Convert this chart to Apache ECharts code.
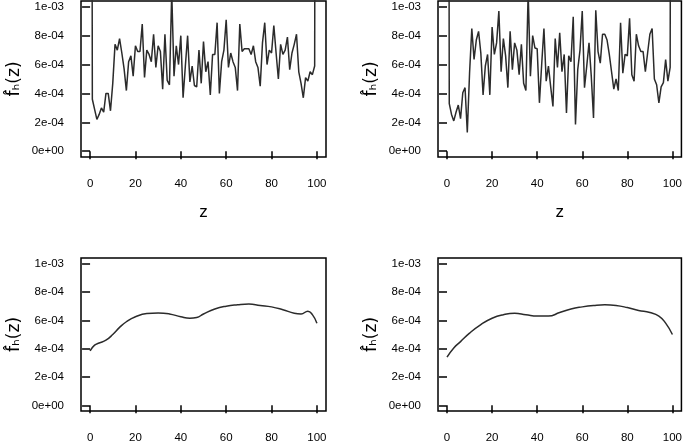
<!DOCTYPE html>
<html>
<head>
<meta charset="utf-8">
<script src="https://cdn.jsdelivr.net/npm/echarts@6/dist/echarts.min.js"></script>
<style>
  html, body { margin: 0; padding: 0; background: #fff; }
  #main { width: 685px; height: 444px; }
</style>
</head>
<body>
<div id="main"></div>
<script>
// values are in units of 1e-04
var zTop = [];
for (var i = 0; i <= 100; i++) zTop.push(i);

var topLeftVals = [100,
  3.6, 2.9, 2.2, 2.55, 3.0, 2.7, 4.0, 4.0, 2.8, 4.7,
  7.4, 7.0, 7.8, 6.8, 5.7, 4.2, 6.2, 6.6, 5.2, 7.3,
  6.9, 6.9, 8.8, 5.1, 7.0, 6.7, 6.2, 8.1, 5.8, 7.3,
  6.9, 4.3, 8.1, 4.9, 4.6, 11, 5.2, 7.3, 6.0, 8.0,
  3.7, 5.9, 8.0, 4.8, 5.9, 4.55, 4.45, 7.0, 4.7, 7.6,
  5.5, 6.2, 3.9, 6.7, 6.7, 8.9, 4.0, 6.2, 7.0, 9.1,
  5.8, 6.8, 6.2, 5.8, 4.2, 8.8, 6.9, 7.1, 7.1, 7.1,
  6.7, 7.3, 6.2, 5.8, 4.5, 7.5, 8.9, 6.0, 7.0, 6.8,
  8.7, 6.8, 5.0, 7.4, 6.7, 7.0, 7.9, 5.65, 6.8, 7.4,
  8.1, 5.5, 4.7, 3.7, 5.1, 4.85, 5.5, 5.3, 5.9, 100];

var topRightVals = [100,
  3.3, 2.55, 2.1, 2.7, 3.2, 2.25, 4.05, 4.4, 1.3, 5.4,
  8.5, 6.35, 7.7, 8.3, 6.8, 3.9, 5.9, 6.7, 3.9, 8.6,
  6.7, 7.5, 9.7, 5.5, 7.8, 6.6, 4.4, 8.3, 5.65, 7.5,
  7.0, 5.3, 7.4, 4.7, 4.2, 11, 5.2, 8.0, 7.15, 7.1,
  3.35, 6.0, 8.5, 4.85, 5.9, 4.45, 3.1, 7.8, 5.8, 8.2,
  5.5, 6.7, 2.65, 6.6, 6.2, 9.3, 1.85, 5.65, 7.0, 9.7,
  4.4, 5.9, 7.5, 5.2, 2.3, 9.75, 6.9, 6.1, 8.1, 8.1,
  7.7, 6.7, 5.5, 4.3, 5.0, 4.2, 8.9, 5.4, 6.7, 6.6,
  9.2, 5.3, 4.85, 8.1, 7.3, 6.9, 6.9, 5.5, 6.8, 8.1,
  8.5, 5.0, 4.6, 3.35, 4.45, 4.75, 6.35, 4.85, 5.8, 100];

var bottomLeftZ = [0, 2, 4, 7, 10, 13, 16, 20, 25, 30, 35, 40, 44, 47, 50, 55, 60, 65, 70, 75, 80, 85, 90, 93, 96, 98, 100];
var bottomLeftVals = [3.84, 4.25, 4.4, 4.6, 5.0, 5.5, 5.9, 6.25, 6.48, 6.52, 6.45, 6.25, 6.15, 6.2, 6.45, 6.8, 7.0, 7.1, 7.15, 7.05, 6.95, 6.75, 6.5, 6.45, 6.65, 6.4, 5.8];

var bottomRightZ = [0, 3, 6, 10, 15, 20, 25, 30, 35, 40, 45, 50, 55, 60, 65, 70, 75, 80, 85, 90, 94, 97, 100];
var bottomRightVals = [3.4, 4.05, 4.5, 5.1, 5.7, 6.15, 6.4, 6.5, 6.4, 6.3, 6.3, 6.55, 6.8, 6.95, 7.05, 7.1, 7.05, 6.9, 6.7, 6.55, 6.3, 5.8, 5.0];

var xTicks = [0, 20, 40, 60, 80, 100];
var yTicks = [0, 2, 4, 6, 8, 10];
var yTickLabels = ['0e+00', '2e-04', '4e-04', '6e-04', '8e-04', '1e-03'];

var font = 'Liberation Sans, Arial, sans-serif';
var yName = 'f\u0302\u2095(z)';

var grids = [
  { left: 81, top: 1, width: 245, height: 156 },
  { left: 438, top: 1, width: 245, height: 156 },
  { left: 81, top: 258, width: 245, height: 155 },
  { left: 438, top: 258, width: 245, height: 155 }
];

function pairs(xs, ys) {
  return xs.map(function (x, k) { return [x, ys[k]]; });
}

var panels = [
  { data: pairs(zTop, topLeftVals), smooth: false, xName: 'z' },
  { data: pairs(zTop, topRightVals), smooth: false, xName: 'z' },
  { data: pairs(bottomLeftZ, bottomLeftVals), smooth: 0.5, xName: '' },
  { data: pairs(bottomRightZ, bottomRightVals), smooth: 0.5, xName: '' }
];

var myChart = echarts.init(document.getElementById('main'), null, { renderer: 'canvas' });

var option = {
  backgroundColor: '#fff',
  animation: false,
  grid: grids.map(function (g) {
    return Object.assign({ show: true, borderColor: '#000', borderWidth: 1.5, backgroundColor: 'transparent' }, g);
  }),
  xAxis: panels.map(function (p, k) {
    return {
      type: 'value', gridIndex: k, min: -4, max: 104,
      name: p.xName, nameLocation: 'middle', nameGap: 47,
      nameTextStyle: { fontFamily: font, fontSize: 17, color: '#000' },
      axisLine: { show: false },
      splitLine: { show: false },
      axisTick: { show: true, inside: false, length: 8, customValues: xTicks, lineStyle: { color: '#000', width: 1.5 } },
      axisLabel: { customValues: xTicks, margin: 21, fontFamily: font, fontSize: 11.5, color: '#000' }
    };
  }),
  yAxis: panels.map(function (p, k) {
    return {
      type: 'value', gridIndex: k, min: -0.4, max: 10.4,
      name: yName, nameLocation: 'middle', nameGap: 58, nameRotate: 90,
      nameTextStyle: { fontFamily: 'DejaVu Sans, sans-serif', fontSize: 17, color: '#000' },
      axisLine: { show: false },
      splitLine: { show: false },
      axisTick: { show: true, inside: false, length: 8, customValues: yTicks, lineStyle: { color: '#000', width: 1.5 } },
      axisLabel: {
        customValues: yTicks, margin: 17, fontFamily: font, fontSize: 11.5, color: '#000',
        formatter: function (v) {
          var idx = yTicks.indexOf(Math.round(v * 1000) / 1000);
          return idx >= 0 ? yTickLabels[idx] : '';
        }
      }
    };
  }),
  series: panels.map(function (p, k) {
    return {
      type: 'line', xAxisIndex: k, yAxisIndex: k,
      data: p.data, smooth: p.smooth, showSymbol: false, clip: true,
      lineStyle: { color: '#2b2b2b', width: 1.5 }
    };
  })
};

myChart.setOption(option);
</script>
</body>
</html>
